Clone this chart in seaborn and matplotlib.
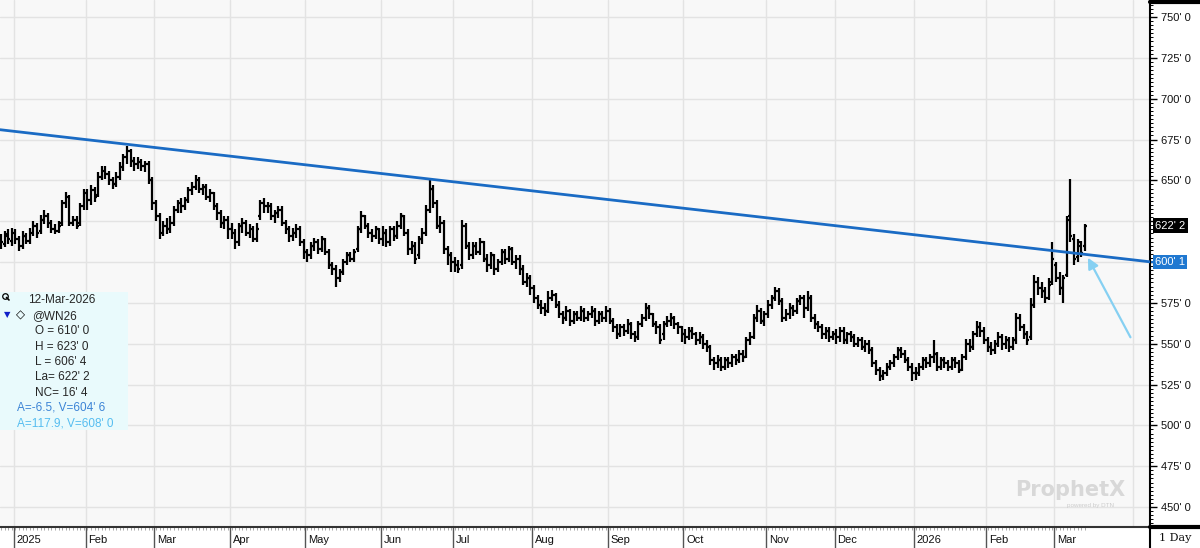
import numpy as np
import pandas as pd
import matplotlib
matplotlib.use("Agg")
import matplotlib.pyplot as plt
import matplotlib.transforms as mtransforms
from matplotlib.lines import Line2D
from matplotlib.patches import Rectangle
from matplotlib.ticker import MultipleLocator, FuncFormatter
import seaborn as sns

# ---- data ----
symbol = "@WN26"
cursor_date = "12-Mar-2026"
first_day = "2024-12-26"
calendar_end = "2026-04-10"
holidays = ["2025-01-01", "2025-01-09", "2025-01-20", "2025-02-17", "2025-04-18",
            "2025-05-26", "2025-06-19", "2025-07-04", "2025-09-01", "2025-11-27",
            "2025-12-25", "2026-01-01", "2026-01-19", "2026-02-16"]

opens = [
    615, 611, 617, 613,
    618, 614, 610, 616, 613, 618, 622, 619, 626, 628, 624, 620, 619, 624, 636, 640, 624, 626, 624, 634,
    642, 638, 644, 641, 652, 656, 654, 650, 648, 652, 658, 664, 668, 662, 660, 661, 659, 660, 650,
    636, 628, 618, 622, 620, 624, 632, 636, 634, 638, 644, 646, 650, 645, 646, 640, 642, 634, 630, 624, 626,
    620, 618, 612, 622, 624, 618, 620, 614, 628, 636, 634, 634, 628, 630, 632, 624, 620, 616, 618, 620, 612,
    606, 604, 610, 612, 608, 614, 606, 598, 596, 590, 594, 600, 604, 602, 608, 620, 628, 622, 618, 616, 620,
    614, 618, 612, 620, 616, 622, 628, 618, 608, 610, 604, 614, 618, 632, 645, 636, 622, 624, 608, 604,
    600, 598, 598, 622, 610, 604, 610, 606, 612, 602, 598, 604, 596, 600, 606, 602, 608, 600, 602, 596, 588, 590,
    584, 578, 574, 572, 570, 578, 580, 574, 568, 566, 570, 564, 568, 566, 570, 566, 568, 570, 564, 568, 566,
    570, 564, 560, 556, 560, 558, 562, 556, 554, 562, 566, 572, 568, 562, 560, 556, 562, 564, 566, 562, 560,
    556, 554, 558, 556, 552, 554, 550, 548, 540, 538, 540, 536, 540, 538, 542, 540, 544, 542, 552, 554, 566, 570, 564,
    568, 574, 578, 582, 576, 566, 568, 572, 570, 576, 578, 572, 578, 566, 562, 560, 556, 558, 554,
    556, 554, 558, 552, 556, 554, 550, 552, 548, 550, 546, 538, 534, 530, 532, 536, 538, 542, 546, 544, 540, 536,
    532, 532, 536, 540, 538, 542, 544, 536, 540, 538, 536, 540, 538, 534, 542, 550, 548, 556, 560, 558,
    552, 548, 546, 550, 554, 550, 552, 548, 552, 566, 560, 556, 554, 574, 588, 584, 582, 578, 588,
    598, 590, 584, 592, 628, 614, 603, 610, 610,
]
highs = [
    617, 619, 620, 621,
    620, 616, 619, 618, 621, 625, 624, 629, 632, 630, 626, 623, 625, 638, 643, 641, 628, 628, 636, 645,
    645, 647, 646, 655, 659, 659, 656, 652, 655, 661, 666, 671, 669, 664, 664, 663, 662, 662, 652,
    638, 630, 625, 627, 628, 634, 638, 639, 640, 646, 649, 653, 652, 648, 648, 645, 643, 636, 632, 628, 628,
    624, 620, 624, 627, 626, 623, 622, 624, 638, 639, 637, 636, 632, 634, 634, 626, 622, 621, 623, 622, 614,
    608, 612, 615, 614, 616, 615, 608, 600, 598, 596, 602, 606, 606, 608, 622, 631, 629, 624, 620, 622, 621,
    622, 620, 622, 622, 625, 630, 629, 620, 613, 612, 616, 621, 635, 650, 647, 638, 628, 626, 610, 606,
    603, 601, 626, 624, 612, 612, 612, 615, 613, 605, 606, 605, 602, 608, 608, 610, 609, 604, 604, 598, 593, 592,
    586, 580, 577, 575, 582, 583, 581, 576, 570, 573, 571, 570, 570, 573, 572, 570, 573, 572, 570, 570, 573,
    572, 566, 562, 562, 562, 565, 563, 558, 564, 568, 575, 574, 569, 564, 562, 564, 567, 569, 567, 563, 561,
    559, 560, 560, 557, 557, 556, 552, 549, 542, 543, 542, 542, 542, 544, 544, 546, 546, 554, 557, 568, 574, 572, 570,
    577, 580, 585, 584, 578, 571, 575, 574, 578, 580, 580, 582, 580, 568, 564, 562, 560, 560, 558,
    559, 560, 560, 557, 558, 556, 554, 554, 552, 552, 548, 540, 536, 534, 538, 540, 544, 548, 548, 546, 542, 538,
    536, 538, 542, 542, 544, 552, 545, 542, 542, 540, 542, 542, 540, 544, 553, 553, 558, 564, 563, 560,
    554, 551, 552, 557, 556, 555, 554, 554, 569, 568, 562, 558, 578, 592, 591, 588, 585, 590, 612,
    600, 594, 592, 628, 651, 617, 614, 613, 623,
]
lows = [
    608, 609, 611, 610,
    611, 607, 608, 611, 611, 616, 615, 617, 623, 621, 618, 617, 618, 622, 633, 622, 622, 620, 622, 632,
    632, 635, 637, 640, 650, 651, 647, 645, 646, 650, 656, 660, 658, 656, 657, 656, 655, 648, 632,
    625, 614, 616, 617, 618, 622, 630, 630, 632, 636, 641, 644, 642, 641, 638, 637, 632, 626, 621, 620, 614,
    614, 608, 610, 618, 616, 615, 612, 612, 626, 630, 630, 626, 624, 627, 622, 617, 612, 613, 615, 610, 602,
    600, 602, 607, 605, 606, 604, 596, 592, 585, 588, 592, 598, 600, 600, 606, 618, 620, 615, 612, 614, 611,
    610, 609, 610, 613, 614, 620, 616, 604, 605, 599, 602, 611, 616, 630, 633, 620, 618, 605, 598, 594,
    594, 593, 596, 608, 601, 602, 604, 604, 600, 594, 596, 592, 594, 598, 599, 600, 598, 596, 592, 586, 585, 580,
    575, 571, 568, 567, 569, 576, 572, 566, 562, 564, 561, 562, 564, 564, 563, 564, 566, 561, 562, 563, 563,
    562, 557, 553, 554, 555, 556, 553, 551, 552, 560, 564, 565, 560, 556, 550, 552, 560, 561, 559, 556, 551,
    550, 552, 553, 549, 550, 547, 545, 537, 534, 535, 533, 534, 535, 536, 537, 538, 539, 541, 549, 553, 563, 562, 561,
    566, 571, 576, 574, 563, 564, 565, 567, 568, 574, 566, 570, 563, 559, 557, 553, 553, 551, 552,
    550, 551, 550, 550, 551, 548, 548, 546, 545, 544, 536, 531, 527, 528, 530, 534, 536, 540, 541, 538, 533, 527,
    528, 530, 534, 535, 536, 538, 533, 534, 535, 533, 534, 535, 532, 533, 540, 545, 546, 554, 554, 550,
    545, 543, 544, 548, 546, 547, 545, 546, 550, 558, 553, 549, 552, 572, 580, 578, 575, 577, 586,
    588, 580, 575, 591, 612, 598, 600, 603, 606.5,
]
closes = [
    612, 616, 614, 618,
    614, 610, 616, 613, 618, 622, 618, 626, 628, 624, 620, 619, 622, 636, 640, 624, 626, 622, 634, 642,
    638, 644, 640, 652, 656, 654, 650, 648, 652, 658, 664, 668, 662, 660, 661, 659, 660, 650, 636,
    628, 618, 622, 620, 624, 632, 636, 634, 638, 644, 646, 650, 645, 646, 640, 642, 634, 630, 624, 626, 620,
    618, 612, 622, 624, 618, 620, 614, 620, 636, 634, 634, 628, 630, 632, 624, 620, 616, 618, 620, 612, 606,
    604, 610, 612, 608, 614, 606, 598, 596, 590, 594, 600, 604, 602, 606, 620, 628, 622, 618, 616, 620, 614,
    618, 612, 620, 616, 622, 628, 618, 608, 610, 602, 614, 618, 632, 645, 636, 622, 624, 608, 604, 600,
    598, 596, 622, 610, 604, 610, 606, 612, 602, 598, 604, 596, 600, 606, 602, 608, 600, 602, 596, 588, 590, 584,
    578, 574, 572, 570, 578, 580, 574, 568, 566, 570, 564, 568, 566, 570, 566, 568, 570, 564, 568, 566, 570,
    564, 560, 556, 560, 558, 562, 556, 554, 562, 566, 572, 568, 562, 560, 552, 562, 564, 566, 562, 560, 556,
    554, 558, 556, 552, 554, 550, 548, 540, 538, 540, 536, 540, 538, 542, 540, 544, 542, 552, 554, 566, 570, 564, 568,
    574, 578, 582, 576, 566, 568, 572, 570, 576, 578, 572, 578, 566, 562, 560, 556, 558, 554, 556,
    554, 558, 552, 556, 554, 550, 552, 548, 550, 546, 538, 534, 530, 532, 536, 538, 542, 546, 544, 540, 536, 532,
    532, 536, 540, 538, 542, 544, 536, 540, 538, 536, 540, 538, 534, 542, 550, 548, 556, 560, 558, 552,
    548, 546, 550, 554, 550, 552, 548, 552, 566, 560, 556, 552, 574, 588, 584, 582, 578, 586, 602,
    590, 584, 590, 626, 616, 602, 612, 605.75, 622.25,
]

trend_left = 681.0       # trend line value at the left edge of the chart
trend_right = 600.125    # value shown in the blue box on the price axis
trend_note = (-6.5, 604.75)
arrow_note = (117.9, 608.0)
price_ticks = list(range(450, 775, 25))


def eighths(p):
    whole = int(np.floor(p + 1e-9))
    return f"{whole}' {int(round((p - whole) * 8))}"


def axis_label(v, _):
    # the value boxes hide the regular labels they sit on
    if abs(v - closes[-1]) < 10 or abs(v - trend_right) < 10:
        return ""
    return eighths(v)


sns.set_theme(style="ticks")
plt.rcParams["font.family"] = ["Liberation Sans", "DejaVu Sans"]

days = pd.bdate_range(first_day, calendar_end, freq="C", holidays=holidays)
n = len(closes)
pos = np.arange(n)
idx = pd.Series(np.arange(len(days)), index=days)
starts = idx.groupby([days.year, days.month]).first()
bounds = [(y, m, v - 0.5) for (y, m), v in starts.items() if v > 0]

fig = plt.figure(figsize=(12, 5.48), dpi=100)
fig.patch.set_facecolor("white")
ax = fig.add_axes([0, 21 / 548, 1150 / 1200, 527 / 548])
ax.set_facecolor("#f8f8f8")
ax.set_xlim(-0.3, 319.1)
ax.set_ylim(437.8, 760.4)

for y, m, b in bounds:
    ax.axvline(b, color="#e3e3e3", lw=1, zorder=0)
for p in price_ticks:
    ax.axhline(p, color="#e3e3e3", lw=1, zorder=0)

# OHLC bars
ax.vlines(pos, lows, highs, color="black", lw=1.6, zorder=3)
ax.hlines(opens, pos - 0.55, pos, color="black", lw=1.6, zorder=3)
ax.hlines(closes, pos, pos + 0.55, color="black", lw=1.6, zorder=3)

# trend line
trend = pd.DataFrame({"x": [-0.3, 319.1], "y": [trend_left, trend_right]})
sns.lineplot(data=trend, x="x", y="y", color="#1a6bc4", lw=2, ax=ax,
             legend=False, zorder=4)
ax.set_xlabel("")
ax.set_ylabel("")

ax.annotate("", xy=(0.946, 0.511), xytext=(0.983, 0.36), xycoords="axes fraction",
            arrowprops=dict(arrowstyle="-|>", color="#86d0f2", lw=1.6,
                            mutation_scale=16, shrinkA=0, shrinkB=0), zorder=5)

# axes styling
for side in ["top", "left"]:
    ax.spines[side].set_visible(False)
ax.spines["right"].set_color("black")
ax.spines["right"].set_linewidth(1.5)
ax.spines["bottom"].set_color("#333333")
ax.spines["bottom"].set_linewidth(1.5)

ax.yaxis.tick_right()
ax.set_yticks(price_ticks)
ax.yaxis.set_major_formatter(FuncFormatter(axis_label))
ax.yaxis.set_minor_locator(MultipleLocator(2.5))
ax.tick_params(axis="y", which="major", direction="out", length=5, width=1,
               color="black", labelsize=8, pad=3, labelcolor="#111111")
ax.tick_params(axis="y", which="minor", direction="out", length=2.5, width=0.7,
               color="black")

labeled = [(y, m, b) for y, m, b in bounds if b < n]
ax.set_xticks([b for _, _, b in labeled])
ax.set_xticklabels([])
ax.set_xticks(pos, minor=True)
ax.tick_params(axis="x", which="major", direction="out", length=15, width=1,
               color="#555555")
ax.tick_params(axis="x", which="minor", direction="out", length=2, width=0.6,
               color="#999999")
xtrans = mtransforms.blended_transform_factory(ax.transData, ax.transAxes)
for y, m, b in labeled:
    lab = str(y) if m == 1 else pd.Timestamp(year=y, month=m, day=1).strftime("%b")
    ax.text(b + 0.8, -0.025, lab, transform=xtrans, ha="left", va="center",
            fontsize=8, color="#111111")

# value boxes on the price axis
ytrans = mtransforms.blended_transform_factory(ax.transAxes, ax.transData)
ax.text(1.0045, closes[-1], eighths(closes[-1]), transform=ytrans, color="white",
        fontsize=8, va="center", ha="left",
        bbox=dict(boxstyle="square,pad=0.2", fc="black", ec="none"))
ax.text(1.0045, trend_right, eighths(trend_right), transform=ytrans, color="white",
        fontsize=8, va="center", ha="left",
        bbox=dict(boxstyle="square,pad=0.2", fc="#1f78d1", ec="none"))
ax.plot([1.0, 1.004], [trend_right, trend_right], transform=ytrans, color="#1a6bc4",
        lw=1.5, clip_on=False)

# cursor readout box
ax.add_patch(Rectangle((0, 0.184), 0.111, 0.262, transform=ax.transAxes,
                       fc="#e9fafc", ec="none", zorder=5))
tx = lambda px: px / 1150
ty = lambda py: (527 - py) / 527
fs = 8.5
ax.plot([tx(5)], [ty(296)], marker="o", ms=4, mfc="none", mec="black", mew=0.9,
        transform=ax.transAxes, zorder=6)
ax.plot([tx(6.5), tx(9)], [ty(297.5), ty(300)], color="black", lw=1.2,
        transform=ax.transAxes, zorder=6)
ax.text(tx(28), ty(300), cursor_date, transform=ax.transAxes, fontsize=fs,
        va="center", zorder=6)
ax.text(tx(4), ty(315), "\u25BC", transform=ax.transAxes, fontsize=6,
        color="#1020c8", va="center", family="DejaVu Sans", zorder=6)
ax.text(tx(16), ty(315), "\u25C7", transform=ax.transAxes, fontsize=8.5,
        color="black", va="center", family="DejaVu Sans", zorder=6)
ax.text(tx(32), ty(316), symbol, transform=ax.transAxes, fontsize=fs,
        va="center", zorder=6)
readout = [
    ("O = ", opens[-1]), ("H = ", highs[-1]), ("L = ", lows[-1]),
    ("La= ", closes[-1]), ("NC= ", closes[-1] - closes[-2]),
]
for k, (lab, v) in enumerate(readout):
    ax.text(tx(35), ty(331 + 15.5 * k), lab + eighths(v), transform=ax.transAxes,
            fontsize=fs, va="center", zorder=6)
ax.text(tx(17), ty(408), f"A={trend_note[0]}, V={eighths(trend_note[1])}",
        transform=ax.transAxes, fontsize=fs, color="#3c84d6", va="center", zorder=6)
ax.text(tx(17), ty(423), f"A={arrow_note[0]}, V={eighths(arrow_note[1])}",
        transform=ax.transAxes, fontsize=fs, color="#55bdf0", va="center", zorder=6)

# watermark
ax.text(tx(1015), ty(490), "ProphetX", transform=ax.transAxes, fontsize=15,
        fontweight="bold", color="#d8d8d8", va="center", family="DejaVu Sans", zorder=2)
ax.text(tx(1067), ty(506), "powered by DTN", transform=ax.transAxes, fontsize=4.5,
        color="#cccccc", va="center", zorder=2)

# right-hand panel frame and period label
fig.add_artist(Line2D([1150 / 1200, 1], [1 - 1.5 / 548] * 2, color="black", lw=3))
fig.add_artist(Line2D([1150 / 1200, 1], [21 / 548] * 2, color="black", lw=3))
fig.add_artist(Line2D([1150 / 1200] * 2, [0, 21 / 548], color="black", lw=1.5))
fig.text(1175 / 1200, 10 / 548, "1 Day", fontsize=8, family="DejaVu Serif",
         ha="center", va="center", color="#111111")

fig.savefig("out.png", dpi=100)
